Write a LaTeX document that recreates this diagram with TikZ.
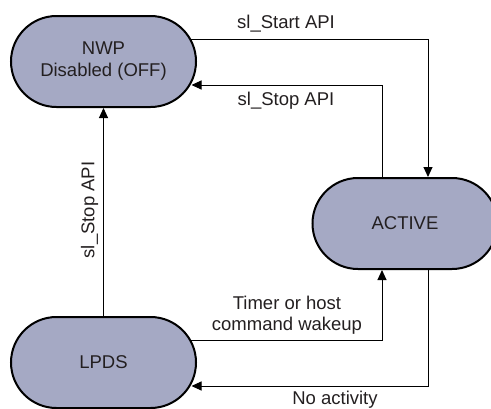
\documentclass[tikz,border=0pt]{standalone}
\usepackage{fontspec}
\setmainfont{Liberation Sans}
\usetikzlibrary{shapes.misc,arrows.meta,calc,backgrounds}
\definecolor{statefill}{HTML}{A5A9C4}
\definecolor{txt}{HTML}{231F20}
\begin{document}
\begin{tikzpicture}[x=1pt,y=-1pt,
  state/.style={rounded rectangle, draw=black, line width=2pt, fill=statefill,
    minimum width=185pt, minimum height=91pt, inner sep=0pt,
    font=\fontsize{18.5}{22}\selectfont, align=center, text=txt},
  conn/.style={line width=1pt, draw=black},
  arr/.style={conn, -{Triangle[length=10pt,width=9pt]}},
  lbl/.style={font=\fontsize{18.5}{21}\selectfont, text=txt, inner sep=0pt, align=center}]
\useasboundingbox (0,0) rectangle (491,408);
\node[state] (NWP) at (103.5,61.5) {NWP\\Disabled (OFF)};
\node[state] (ACTIVE) at (405,223.5) {ACTIVE};
\node[state] (LPDS) at (103.5,362.5) {LPDS};
\begin{scope}[on background layer]
\draw[arr] ($(NWP.center)+(0,-22.5)$) -| ($(ACTIVE.north)+(23,0)$);
\draw[arr] ($(ACTIVE.north)+(-23,0)$) |- ($(NWP.center)+(88,23.5)$);
\draw[arr] (LPDS.north) -- (NWP.south);
\draw[arr] ($(LPDS.center)+(0,-22.5)$) -| ($(ACTIVE.south)+(-23,0)$);
\draw[arr] ($(ACTIVE.south)+(23,0)$) |- ($(LPDS.center)+(88,23.5)$);
\end{scope}
\node[lbl] (lstart) at (286,24) {sl\_Start API};
\node[lbl] (lstop) at (286,101) {sl\_Stop API};
\node[lbl, rotate=90] (lstopv) at (89.5,210) {sl\_Stop API};
\node[lbl] (ltimer) at (287,315) {Timer or host\\command wakeup};
\node[lbl] (lnoact) at (335,400) {No activity};
\end{tikzpicture}
\end{document}
